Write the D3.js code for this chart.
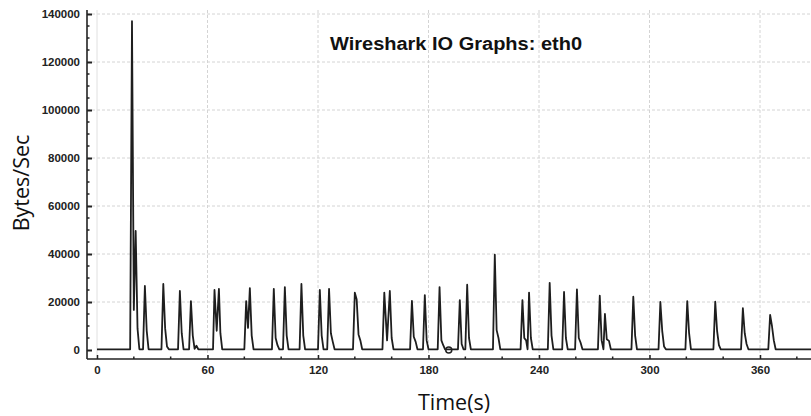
<!DOCTYPE html>
<html>
<head>
<meta charset="utf-8">
<script src="https://cdn.jsdelivr.net/npm/d3@7"></script>
<style>
  body { margin: 0; background: #fff; }
  svg { display: block; }
</style>
</head>
<body>
<div id="chart"></div>
<script>
// I/O samples: time (s) and bytes per second
var timeSec = [
  0, 18, 19, 20, 21, 22, 23,
  25, 26, 27, 28,
  35, 36, 37, 38, 39,
  44, 45, 46, 47,
  50, 51, 52, 53, 54, 55,
  63, 63.8, 65, 66.2, 67, 68,
  80, 81, 82, 83, 84, 85,
  95, 96, 97, 98, 99,
  101, 102, 103, 104,
  110, 111, 112, 113,
  120, 121, 122, 123,
  125, 126, 127, 128, 129,
  139, 140, 141, 142, 143, 144,
  155, 156, 157.5, 159, 160, 161,
  170, 171, 172, 173, 174,
  177, 178, 179, 180,
  185, 186, 187, 188, 189,
  196, 197, 198, 199, 200, 201, 202, 203,
  215, 216, 217, 218, 219,
  230, 231, 232, 233, 233.8, 234.6, 235.6, 236.6,
  244.8, 245.8, 246.8, 247.8,
  252.6, 253.6, 254.6, 255.6,
  259.6, 260.6, 261.6, 262.6, 263.6,
  272, 273, 274, 275, 275.8, 276.8, 278, 279,
  290.2, 291.2, 292.2, 293.2,
  304.9, 305.9, 306.9, 307.9, 308.9,
  319.5, 320.5, 321.5, 322.5,
  334.7, 335.7, 336.7, 337.7, 338.7,
  349.7, 350.7, 351.7, 352.7, 353.7,
  364.5, 365.5, 366.5, 367.5, 368.5,
  390
];
var bytesSec = [
  300, 300, 137000, 16700, 49600, 9000, 300,
  300, 26700, 8000, 300,
  300, 27500, 9000, 1500, 300,
  300, 24600, 7000, 300,
  300, 20400, 6000, 500, 1800, 300,
  300, 25000, 8000, 25500, 7000, 300,
  300, 20400, 9200, 25800, 6000, 300,
  300, 25500, 5000, 2000, 300,
  300, 26200, 6000, 300,
  300, 27500, 6000, 300,
  300, 25000, 6000, 300,
  300, 25500, 7000, 3500, 300,
  300, 23900, 21000, 6500, 4000, 300,
  300, 23900, 4000, 24600, 5000, 300,
  300, 20500, 5500, 3500, 300,
  300, 22900, 4000, 300,
  300, 26200, 4000, 2000, 300,
  300, 20800, 2500, 300, 300, 27200, 5000, 300,
  300, 39700, 8300, 5000, 300,
  300, 20800, 5000, 4000, 300, 23900, 5000, 300,
  300, 28000, 6000, 300,
  300, 24200, 5000, 300,
  300, 25300, 5000, 3000, 300,
  300, 22600, 4000, 300, 15000, 4500, 3800, 300,
  300, 22200, 6000, 300,
  300, 20000, 8000, 1500, 300,
  300, 20400, 7000, 300,
  300, 20100, 8000, 2000, 300,
  300, 17400, 7000, 2500, 300,
  300, 14600, 10000, 4000, 300,
  300
];
var markerTimes = [191];
var markerBytes = [0];

var xTicks = [0, 60, 120, 180, 240, 300, 360];
var yTicks = [0, 20000, 40000, 60000, 80000, 100000, 120000, 140000];

var width = 811, height = 416;
var left = 87, baseY = 359, topY = 10;

var svg = d3.select("#chart").append("svg")
    .attr("width", width)
    .attr("height", height)
    .style("font-family", "'DejaVu Sans', sans-serif");

var x = d3.scaleLinear().domain([0, 360]).range([97, 760]);
var y = d3.scaleLinear().domain([0, 140000]).range([350, 14]);

// grid
svg.append("g")
  .selectAll("line")
  .data(yTicks.slice(1))
  .enter().append("line")
    .attr("x1", left).attr("x2", width)
    .attr("y1", function(d) { return y(d); })
    .attr("y2", function(d) { return y(d); })
    .style("stroke", "#d4d4d4")
    .style("stroke-dasharray", "3,2")
    .style("stroke-width", 1);

svg.append("g")
  .selectAll("line")
  .data(xTicks)
  .enter().append("line")
    .attr("x1", function(d) { return x(d); })
    .attr("x2", function(d) { return x(d); })
    .attr("y1", topY).attr("y2", baseY)
    .style("stroke", function(d) { return d == 0 ? "#e0e0e0" : "#d4d4d4"; })
    .style("stroke-dasharray", function(d) { return d == 0 ? null : "3,2"; })
    .style("stroke-width", 1);

// title
svg.append("text")
  .attr("x", 330)
  .attr("y", 50)
  .attr("textLength", 252)
  .attr("lengthAdjust", "spacingAndGlyphs")
  .style("font-family", "'Liberation Sans', Arial, sans-serif")
  .style("font-weight", "bold")
  .style("font-size", "17.5px")
  .style("fill", "#111")
  .text("Wireshark IO Graphs: eth0");

// the traffic line
var pts = timeSec.map(function(t, i) { return [t, bytesSec[i]]; });
var line = d3.line()
  .x(function(d) { return x(d[0]); })
  .y(function(d) { return y(d[1]); });

svg.append("path")
  .datum(pts)
  .attr("d", line)
  .style("fill", "none")
  .style("stroke", "#1e1e1e")
  .style("stroke-width", 1.8)
  .style("stroke-linejoin", "round");

svg.selectAll("circle.mark")
  .data(markerTimes)
  .enter().append("circle")
    .attr("class", "mark")
    .attr("cx", function(d) { return x(d); })
    .attr("cy", function(d, i) { return y(markerBytes[i]); })
    .attr("r", 3)
    .style("fill", "none")
    .style("stroke", "#222")
    .style("stroke-width", 1.5);

// axes
var xAxis = d3.axisBottom(x)
  .tickValues(xTicks)
  .tickSize(-4)
  .tickPadding(7);
var gx = svg.append("g")
  .attr("transform", "translate(0," + baseY + ")")
  .call(xAxis);
gx.select(".domain").remove();
gx.selectAll(".tick line").style("stroke", "#222").style("stroke-width", 1.5);
gx.selectAll(".tick text")
  .style("font-size", "11.5px").style("font-weight", "bold").style("fill", "#222");

var xMinor = d3.range(20, 390, 60).concat(d3.range(40, 390, 60));
svg.append("g").selectAll("line")
  .data(xMinor)
  .enter().append("line")
    .attr("x1", function(d) { return x(d); })
    .attr("x2", function(d) { return x(d); })
    .attr("y1", baseY).attr("y2", baseY - 2.5)
    .style("stroke", "#222").style("stroke-width", 1.5);

svg.append("line")
  .attr("x1", left).attr("x2", width)
  .attr("y1", baseY).attr("y2", baseY)
  .style("stroke", "#222").style("stroke-width", 1.6);

var yAxis = d3.axisLeft(y)
  .tickValues(yTicks)
  .tickSize(-5)
  .tickPadding(7)
  .tickFormat(d3.format("d"));
var gy = svg.append("g")
  .attr("transform", "translate(" + left + ",0)")
  .call(yAxis);
gy.select(".domain").remove();
gy.selectAll(".tick line").style("stroke", "#222").style("stroke-width", 2);
gy.selectAll(".tick text")
  .style("font-size", "11.5px").style("font-weight", "bold").style("fill", "#222");

var yMinor = d3.range(5000, 140000, 5000).filter(function(d) { return d % 20000 != 0; });
svg.append("g").selectAll("line")
  .data(yMinor)
  .enter().append("line")
    .attr("x1", left).attr("x2", left + 2.5)
    .attr("y1", function(d) { return y(d); })
    .attr("y2", function(d) { return y(d); })
    .style("stroke", "#222").style("stroke-width", 1.5);

svg.append("line")
  .attr("x1", left).attr("x2", left)
  .attr("y1", topY).attr("y2", baseY)
  .style("stroke", "#222").style("stroke-width", 1.6);

// axis titles
svg.append("text")
  .attr("transform", "translate(29,183) rotate(-90)")
  .attr("text-anchor", "middle")
  .style("font-family", "'Open Sans', sans-serif")
  .style("font-size", "21.5px")
  .style("fill", "#111")
  .text("Bytes/Sec");

svg.append("text")
  .attr("x", 454)
  .attr("y", 410)
  .attr("text-anchor", "middle")
  .style("font-family", "'Open Sans', sans-serif")
  .style("font-size", "21.5px")
  .style("fill", "#111")
  .text("Time(s)");
</script>
</body>
</html>
